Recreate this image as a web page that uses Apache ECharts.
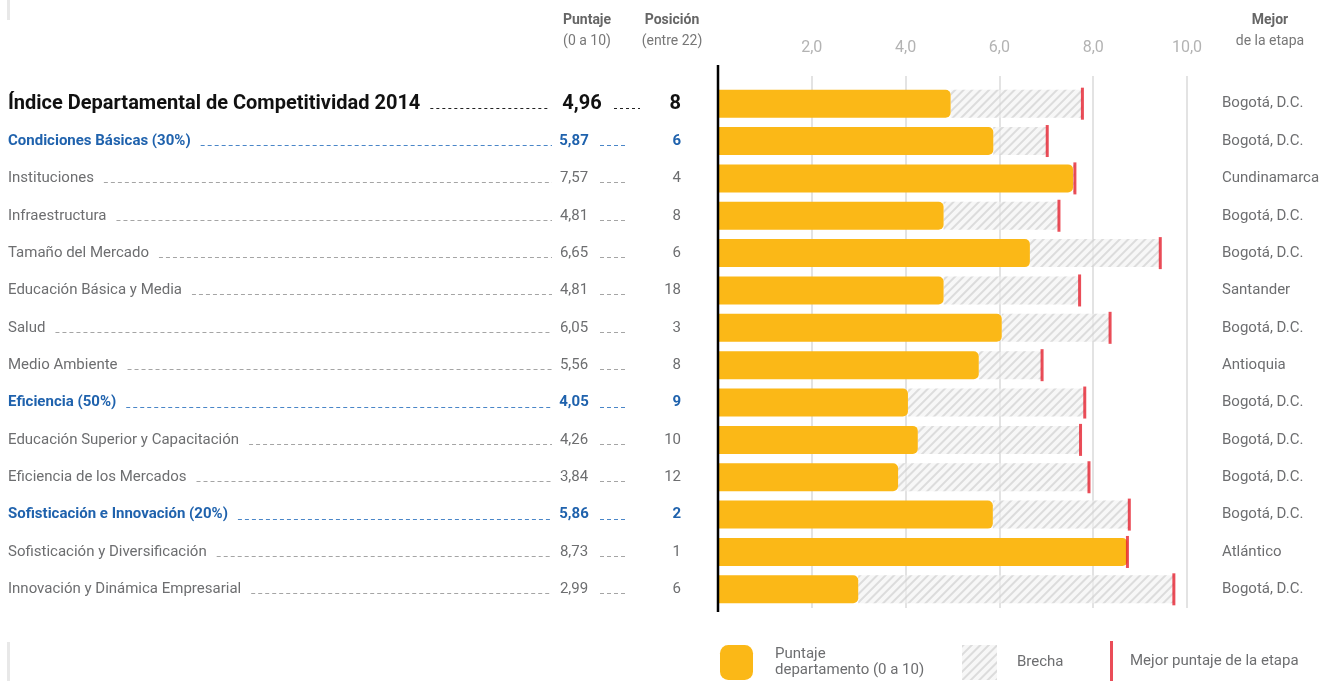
<!DOCTYPE html>
<html>
<head>
<meta charset="utf-8">
<script src="https://cdn.jsdelivr.net/npm/echarts@6/dist/echarts.min.js"></script>
<style>
  html, body { margin: 0; padding: 0; background: #fff; }
  #chart { width: 1324px; height: 681px; }
</style>
</head>
<body>
<div id="chart"></div>
<script>
// data
const labels = [
  'Índice Departamental de Competitividad 2014',
  'Condiciones Básicas (30%)',
  'Instituciones',
  'Infraestructura',
  'Tamaño del Mercado',
  'Educación Básica y Media',
  'Salud',
  'Medio Ambiente',
  'Eficiencia (50%)',
  'Educación Superior y Capacitación',
  'Eficiencia de los Mercados',
  'Sofisticación e Innovación (20%)',
  'Sofisticación y Diversificación',
  'Innovación y Dinámica Empresarial'
];
const rowTypes = ['title', 'group', 'item', 'item', 'item', 'item', 'item', 'item',
  'group', 'item', 'item', 'group', 'item', 'item'];
const scores = [4.96, 5.87, 7.57, 4.81, 6.65, 4.81, 6.05, 5.56, 4.05, 4.26, 3.84, 5.86, 8.73, 2.99];
const positions = [8, 6, 4, 8, 6, 18, 3, 8, 9, 10, 12, 2, 1, 6];
const bestScores = [7.77, 7.02, 7.61, 7.27, 9.43, 7.71, 8.36, 6.91, 7.82, 7.73, 7.91, 8.77, 8.73, 9.72];
const bestNames = ['Bogotá, D.C.', 'Bogotá, D.C.', 'Cundinamarca', 'Bogotá, D.C.', 'Bogotá, D.C.',
  'Santander', 'Bogotá, D.C.', 'Antioquia', 'Bogotá, D.C.', 'Bogotá, D.C.', 'Bogotá, D.C.',
  'Bogotá, D.C.', 'Atlántico', 'Bogotá, D.C.'];
const xTicks = [0, 2, 4, 6, 8, 10];

const FONT = 'Roboto';
const ORANGE = '#fbb817';
const RED = '#e5202e';
const BLUE = '#1f62ad';
const GRAY = '#6d6e70';
const GRID_LEFT = 718, GRID_RIGHT = 1187, GRID_TOP = 85, GRID_BOTTOM = 608;

const fmt = v => v.toFixed(2).replace('.', ',');

const styleFor = {
  title: { fontSize: 20, fontWeight: 'bold', color: '#111' },
  group: { fontSize: 15, fontWeight: 'bold', color: BLUE },
  item: { fontSize: 15, fontWeight: 'normal', color: GRAY }
};

// measure label widths so the dashed leaders start right after the text
const measureCtx = document.createElement('canvas').getContext('2d');
function textWidth(text, type) {
  const s = styleFor[type];
  measureCtx.font = s.fontWeight + ' ' + s.fontSize + 'px ' + FONT;
  return measureCtx.measureText(text).width;
}
const nameEnds = labels.map((l, i) => 8 + textWidth(l, rowTypes[i]));

const chart = echarts.init(document.getElementById('chart'));

const rich = {};
['title', 'group', 'item'].forEach(t => {
  const s = styleFor[t];
  const wide = t === 'title';
  const base = { fontFamily: FONT, fontSize: s.fontSize, fontWeight: s.fontWeight, color: s.color };
  rich[t + 'Name'] = Object.assign({ width: 540, align: 'left' }, base);
  rich[t + 'Score'] = Object.assign({ width: wide ? 68 : 52, align: 'right' }, base);
  rich[t + 'Gap'] = { width: wide ? 39 : 55 };
  rich[t + 'Pos'] = Object.assign({ width: 26, align: 'right' }, base);
});

const option = {
  animation: false,
  grid: { left: GRID_LEFT, right: 1324 - GRID_RIGHT, top: GRID_TOP, bottom: 681 - GRID_BOTTOM, containLabel: false },
  xAxis: {
    type: 'value',
    position: 'top',
    min: 0,
    max: 10,
    interval: 2,
    axisLine: { show: false },
    axisTick: { show: true, length: 9, lineStyle: { color: '#e3e3e3', width: 2 } },
    splitLine: { show: true, lineStyle: { color: '#e3e3e3', width: 2 } },
    axisLabel: {
      margin: 29,
      fontFamily: FONT,
      fontSize: 16,
      color: '#b3b3b3',
      formatter: v => (xTicks.indexOf(v) > 0 ? v.toFixed(1).replace('.', ',') : '')
    }
  },
  yAxis: [
    {
      type: 'category',
      inverse: true,
      data: labels,
      axisLine: { show: false },
      axisTick: { show: false },
      axisLabel: {
        margin: GRID_LEFT - 8,
        align: 'left',
        formatter: (v, i) => {
          const t = rowTypes[i];
          return '{' + t + 'Name|' + v + '}{' + t + 'Score|' + fmt(scores[i]) + '}{' + t + 'Gap|}{' + t + 'Pos|' + positions[i] + '}';
        },
        rich: rich
      }
    },
    {
      type: 'category',
      inverse: true,
      position: 'right',
      data: bestNames,
      axisLine: { show: false },
      axisTick: { show: false },
      axisLabel: {
        margin: 35,
        align: 'left',
        fontFamily: FONT,
        fontSize: 15,
        color: GRAY
      }
    }
  ],
  legend: [
    {
      left: 720, top: 645, padding: 0, itemWidth: 33, itemHeight: 35, selectedMode: false,
      data: [{ name: 'Puntaje\ndepartamento (0 a 10)', icon: 'roundRect' }],
      textStyle: { fontFamily: FONT, fontSize: 15, color: GRAY, lineHeight: 16, padding: [0, 0, 0, 17] }
    },
    {
      left: 962, top: 645, padding: 0, itemWidth: 35, itemHeight: 35, selectedMode: false,
      data: [{ name: 'Brecha', icon: 'rect' }],
      textStyle: { fontFamily: FONT, fontSize: 15, color: GRAY, padding: [0, 0, 0, 15] }
    },
    {
      left: 1110, top: 641, padding: 0, itemWidth: 15, itemHeight: 40, selectedMode: false,
      data: [{ name: 'Mejor puntaje de la etapa', icon: 'path://M0,0H3V40H0Z' }],
      textStyle: { fontFamily: FONT, fontSize: 15, color: GRAY, padding: [0, 0, 0, 6] }
    }
  ],
  series: [
    {
      name: 'Puntaje\ndepartamento (0 a 10)',
      type: 'bar',
      stack: 'total',
      barWidth: 28,
      data: scores,
      itemStyle: { color: ORANGE, borderRadius: [0, 5, 5, 0] },
      z: 3
    },
    {
      name: 'Brecha',
      type: 'bar',
      stack: 'total',
      barWidth: 28,
      data: bestScores.map((b, i) => Math.max(0, +(b - scores[i]).toFixed(2))),
      itemStyle: {
        color: 'rgba(242,242,242,0.6)',
        decal: {
          symbol: 'rect',
          color: 'rgba(205,205,205,0.65)',
          dashArrayX: [1, 0],
          dashArrayY: [2, 4],
          rotation: -Math.PI / 4
        }
      },
      z: 2
    },
    {
      name: 'Mejor puntaje de la etapa',
      type: 'scatter',
      symbol: 'rect',
      symbolSize: [3, 32],
      data: bestScores.map((b, i) => [b, i]),
      itemStyle: { color: RED },
      z: 5
    },
    {
      // dashed leaders between label, score and position
      type: 'custom',
      silent: true,
      clip: false,
      data: labels.map((l, i) => [0, i]),
      encode: { x: 0, y: 1 },
      renderItem: (params, api) => {
        const i = api.value(1);
        const y = Math.round(api.coord([0, i])[1]) + 4.5;
        const t = rowTypes[i];
        const color = t === 'title' ? '#222' : t === 'group' ? '#4a86c8' : '#a5a5a5';
        const dash = t === 'title' ? [3, 3] : [4, 3];
        const end1 = t === 'title' ? 548 : 552;
        const start2 = t === 'title' ? 614 : 600;
        return {
          type: 'group',
          children: [
            { type: 'line', shape: { x1: nameEnds[i] + 10, y1: y, x2: end1, y2: y }, style: { stroke: color, lineWidth: 1, lineDash: dash } },
            { type: 'line', shape: { x1: start2, y1: y, x2: start2 + 26, y2: y }, style: { stroke: color, lineWidth: 1, lineDash: dash } }
          ]
        };
      },
      z: 1
    }
  ],
  graphic: [
    { type: 'line', shape: { x1: GRID_LEFT, y1: 65, x2: GRID_LEFT, y2: 612 }, style: { stroke: '#000', lineWidth: 2.5 }, z: 10 },
    { type: 'rect', shape: { x: 7, y: 0, width: 3, height: 20 }, style: { fill: '#e8e8e8' } },
    { type: 'rect', shape: { x: 7, y: 642, width: 3, height: 39 }, style: { fill: '#e8e8e8' } },
    { type: 'text', x: 587, y: 20, style: { text: 'Puntaje', font: 'bold 14px ' + FONT, fill: '#666', align: 'center', verticalAlign: 'middle' } },
    { type: 'text', x: 587, y: 41, style: { text: '(0 a 10)', font: '14px ' + FONT, fill: '#777', align: 'center', verticalAlign: 'middle' } },
    { type: 'text', x: 672, y: 20, style: { text: 'Posición', font: 'bold 14px ' + FONT, fill: '#666', align: 'center', verticalAlign: 'middle' } },
    { type: 'text', x: 672, y: 41, style: { text: '(entre 22)', font: '14px ' + FONT, fill: '#777', align: 'center', verticalAlign: 'middle' } },
    { type: 'text', x: 1270, y: 20, style: { text: 'Mejor', font: 'bold 14px ' + FONT, fill: '#666', align: 'center', verticalAlign: 'middle' } },
    { type: 'text', x: 1270, y: 41, style: { text: 'de la etapa', font: '14px ' + FONT, fill: '#777', align: 'center', verticalAlign: 'middle' } }
  ]
};

chart.setOption(option);
window.addEventListener('resize', () => chart.resize());
</script>
</body>
</html>
